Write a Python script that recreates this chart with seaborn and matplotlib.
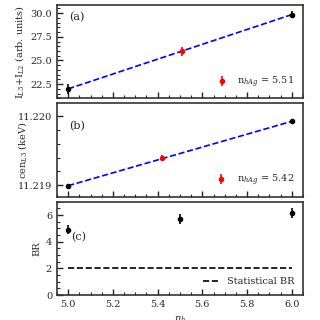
import numpy as np
import seaborn as sns
import matplotlib
matplotlib.use('Agg')
import matplotlib.pyplot as plt
from matplotlib.ticker import MultipleLocator, FormatStrFormatter

# data
n_h = [5.0, 6.0]
intensity = [22.0, 29.85]
intensity_err = [0.5, 0.4]
n_hag_a = 5.51
intensity_hag = 25.95
intensity_hag_err = 0.5

centroid = [11.21899, 11.21993]
centroid_err = [0.00003, 0.00003]
n_hag_b = 5.42
centroid_hag = 11.21940
centroid_hag_err = 0.00004

n_h_br = [5.0, 5.5, 6.0]
br = [4.9, 5.7, 6.17]
br_err = [0.35, 0.35, 0.35]
stat_br = 2.0

sns.set_style('ticks')
plt.rcParams['font.family'] = ['DejaVu Serif']
plt.rcParams['mathtext.fontset'] = 'dejavuserif'
plt.rcParams['font.size'] = 7
plt.rcParams['xtick.direction'] = 'in'
plt.rcParams['ytick.direction'] = 'in'
plt.rcParams['xtick.labelsize'] = 7
plt.rcParams['ytick.labelsize'] = 7
plt.rcParams['axes.labelsize'] = 7
plt.rcParams['axes.edgecolor'] = '#333333'
plt.rcParams['axes.linewidth'] = 1.2

fig, axes = plt.subplots(3, 1, figsize=(3.2, 3.2), dpi=100, sharex=True)
fig.subplots_adjust(left=0.178, right=0.947, top=0.984, bottom=0.078, hspace=0.055)
ax_a, ax_b, ax_c = axes

leg_kw = dict(loc='lower right', frameon=False, fontsize=7, handlelength=1.6, handletextpad=0.8)

# (a) intensity
sns.lineplot(x=n_h, y=intensity, ax=ax_a, color='blue', linestyle='--', lw=1.2)
ax_a.errorbar(n_h, intensity, yerr=intensity_err, fmt='o', color='black', ms=3, elinewidth=1.2)
ax_a.errorbar([n_hag_a], [intensity_hag], yerr=[intensity_hag_err], fmt='o', color='red',
              ms=3, elinewidth=1.2, label=f'n$_{{hAg}}$ = {n_hag_a:.2f}')
ax_a.set_ylim(21.0, 30.85)
ax_a.yaxis.set_major_locator(MultipleLocator(2.5))
ax_a.yaxis.set_minor_locator(MultipleLocator(0.5))
ax_a.set_ylabel('I$_{L3}$+I$_{L2}$ (arb. units)', labelpad=3)
ax_a.text(0.05, 0.84, '(a)', transform=ax_a.transAxes, fontsize=8)
ax_a.legend(**leg_kw)

# (b) centroid
sns.lineplot(x=n_h, y=centroid, ax=ax_b, color='blue', linestyle='--', lw=1.2)
ax_b.errorbar(n_h, centroid, yerr=centroid_err, fmt='o', color='black', ms=3, elinewidth=1.2)
ax_b.errorbar([n_hag_b], [centroid_hag], yerr=[centroid_hag_err], fmt='o', color='red',
              ms=3, elinewidth=1.2, label=f'n$_{{hAg}}$ = {n_hag_b:.2f}')
ax_b.set_ylim(11.21883, 11.22019)
ax_b.yaxis.set_major_locator(MultipleLocator(0.001))
ax_b.yaxis.set_minor_locator(MultipleLocator(0.0002))
ax_b.yaxis.set_major_formatter(FormatStrFormatter('%.3f'))
ax_b.set_ylabel('cen$_{L3}$ (keV)')
ax_b.yaxis.set_label_coords(-0.115, 0.5)
ax_b.text(0.05, 0.72, '(b)', transform=ax_b.transAxes, fontsize=8)
ax_b.legend(**leg_kw)

# (c) branching ratio
ax_c.errorbar(n_h_br, br, yerr=br_err, fmt='o', color='black', ms=3, elinewidth=1.2)
sns.lineplot(x=[n_h_br[0], n_h_br[-1]], y=[stat_br, stat_br], ax=ax_c, color='black',
             linestyle='--', lw=1.2, label='Statistical BR')
ax_c.set_ylim(0, 7)
ax_c.yaxis.set_major_locator(MultipleLocator(2))
ax_c.yaxis.set_minor_locator(MultipleLocator(0.5))
ax_c.set_ylabel('BR', labelpad=3)
ax_c.text(5.015, 4.15, '(c)', fontsize=8)
ax_c.legend(**leg_kw)

ax_c.set_xlim(4.95, 6.05)
ax_c.xaxis.set_major_locator(MultipleLocator(0.2))
ax_c.xaxis.set_minor_locator(MultipleLocator(0.05))
ax_c.set_xlabel('$n_h$')

for ax in axes:
    ax.tick_params(which='major', length=4, width=1)
    ax.tick_params(which='minor', length=2, width=0.8)

fig.savefig('out.png', dpi=100, facecolor='white')
plt.close(fig)
